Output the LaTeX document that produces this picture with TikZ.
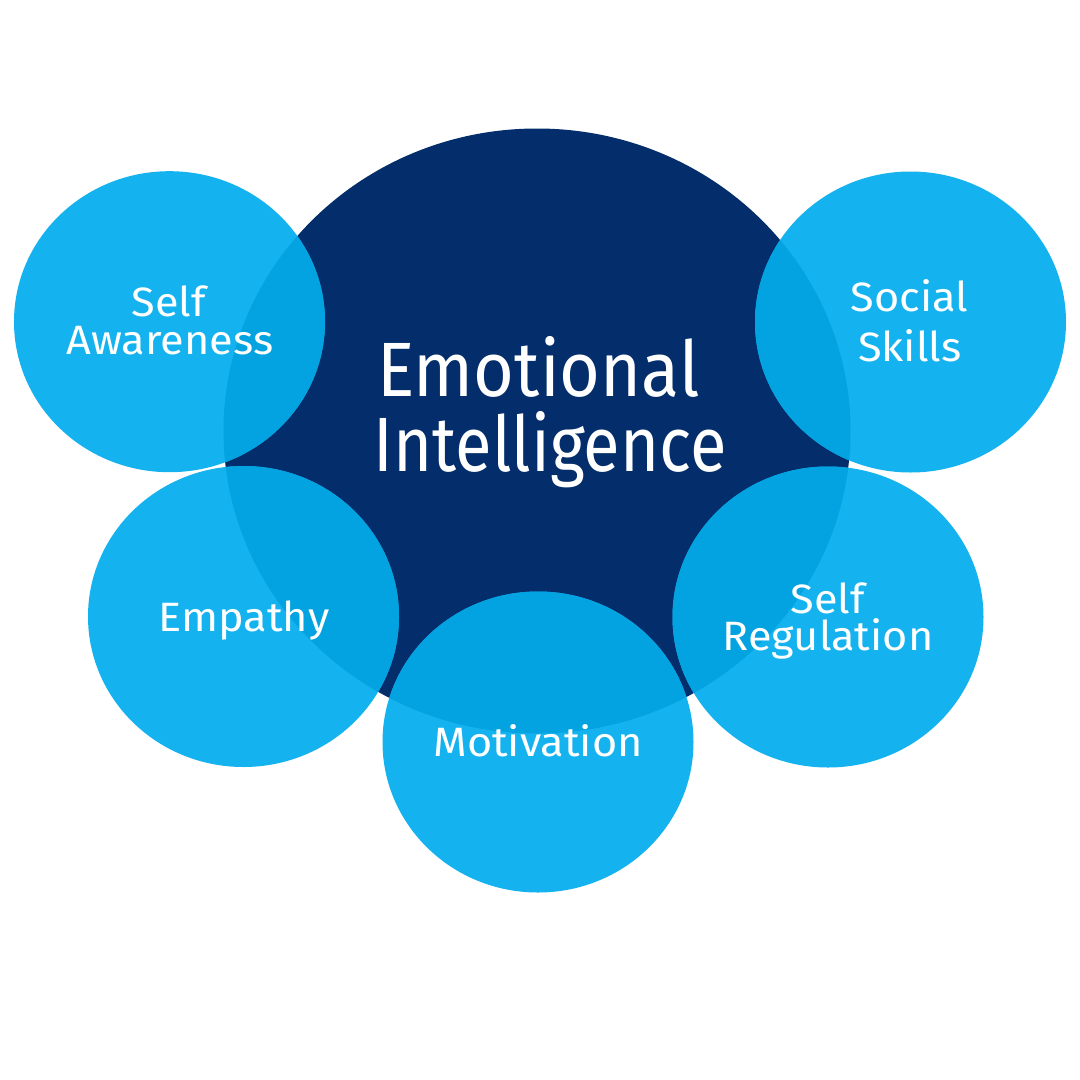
\documentclass[tikz,border=0pt]{standalone}
\usepackage{graphicx}
\usepackage{fontspec}
\setmainfont{Fira Sans}
\definecolor{navy}{HTML}{032E6B}
\definecolor{sky}{HTML}{14B2EE}
\definecolor{mix}{HTML}{03A2E0}
\newcommand{\widelbl}[1]{\scalebox{1.055}[1]{#1}}
\begin{document}
\begin{tikzpicture}[x=1pt,y=-1pt,
  lbl/.style={text=white, inner sep=0pt, anchor=base, font=\fontsize{41}{41}\selectfont},
  big/.style={text=white, inner sep=0pt, anchor=base, font=\fontsize{77}{77}\selectfont},
  core/.style={fill=navy},
  petal/.style={fill=sky}]
\useasboundingbox (0,0) rectangle (1080,1080);
\fill[white] (0,0) rectangle (1080,1080);
% central circle
\fill[core] (537,431) ellipse [x radius=313.5, y radius=302.5];
% surrounding circles with tinted overlap
\foreach \cx/\cy in {169.5/321.7, 910.5/322, 243.5/616.5, 828/617, 538/742}{
  \fill[petal] (\cx,\cy) ellipse [x radius=155.5, y radius=150.5];
  \begin{scope}
    \clip (\cx,\cy) ellipse [x radius=155.5, y radius=150.5];
    \fill[mix] (537,431) ellipse [x radius=313.5, y radius=302.5];
  \end{scope}
}
% labels
\node[big] (ei1) at (538.3,396) {\scalebox{0.909}[1]{Emotional}};
\node[big] (ei2) at (550,471.7) {\scalebox{0.868}[1]{Intelligence}};
\node[lbl] (sa1) at (169,316.7) {\widelbl{Self}};
\node[lbl] (sa2) at (170,354) {\widelbl{Awareness}};
\node[lbl] (ss1) at (909.5,311.7) {\widelbl{Social}};
\node[lbl] (ss2) at (910,361) {\widelbl{Skills}};
\node[lbl] (em) at (244,631) {\widelbl{Empathy}};
\node[lbl] (sr1) at (828,613.3) {\widelbl{Self}};
\node[lbl] (sr2) at (828,650) {\widelbl{Regulation}};
\node[lbl] (mo) at (538,756) {\widelbl{Motivation}};
\end{tikzpicture}
\end{document}
